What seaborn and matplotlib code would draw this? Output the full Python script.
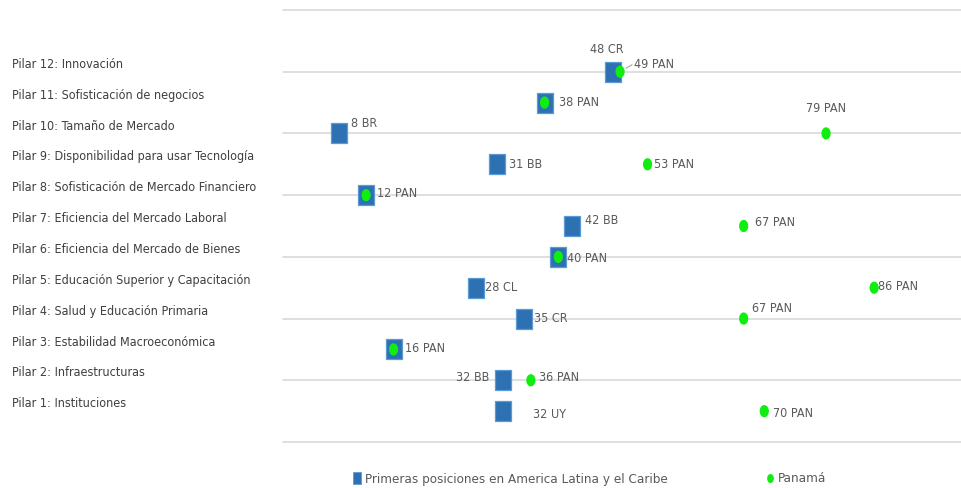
import numpy as np
import pandas as pd
import matplotlib
matplotlib.use("Agg")
import matplotlib.pyplot as plt
import matplotlib.transforms as mtransforms
from matplotlib.lines import Line2D
import seaborn as sns

# ---- data -------------------------------------------------------------
pilares = [
    "Pilar 1: Instituciones",
    "Pilar 2: Infraestructuras",
    "Pilar 3: Estabilidad Macroeconómica",
    "Pilar 4: Salud y Educación Primaria",
    "Pilar 5: Educación Superior y Capacitación",
    "Pilar 6: Eficiencia del Mercado de Bienes",
    "Pilar 7: Eficiencia del Mercado Laboral",
    "Pilar 8: Sofisticación de Mercado Financiero",
    "Pilar 9: Disponibilidad para usar Tecnología",
    "Pilar 10: Tamaño de Mercado",
    "Pilar 11: Sofisticación de negocios",
    "Pilar 12: Innovación",
]
pilar_num = [1, 2, 3, 4, 5, 6, 7, 8, 9, 10, 11, 12]
lider_rank = [32, 32, 16, 35, 28, 40, 42, 12, 31, 8, 38, 48]
lider_pais = ["UY", "BB", "PAN", "CR", "CL", "PAN", "BB", "PAN", "BB", "BR", "PAN", "CR"]
panama_rank = [70, 36, 16, 67, 86, 40, 67, 12, 53, 79, 38, 49]

serie_lider = "Primeras posiciones en America Latina y el Caribe"
serie_pan = "Panamá"

# ---- label placement (pixel offsets from the marker: dx, dy, ha) -------
lider_off = [(30, -3, "left"), (-14, 3, "right"), (11, 1, "left"), (10, 0, "left"),
             (9, 0, "left"), (9, -2, "left"), (13, 5, "left"), (11, 2, "left"),
             (12, 0, "left"), (12, 10, "left"), (14, 0, "left"), (-6, 22, "center")]
pan_off = [(9, -2, "left"), (8, 3, "left"), None, (8, 10, "left"),
           (4, 1, "left"), None, (11, 3, "left"), None,
           (6, 0, "left"), (0, 25, "center"), None, (14, 7, "left")]

# ---- style ----------------------------------------------------------------
sns.set_theme(style="white")
plt.rcParams["font.family"] = ["DejaVu Sans"]
plt.rcParams["font.stretch"] = "condensed"

BLUE = "#2E71B3"
BLUE_EDGE = "#5B9BD5"
GREEN = "#10EE10"
GRID = "#D9D9D9"
LABEL = "#595959"
PX = 0.72  # points per pixel at 100 dpi

# tall rectangle and tall ellipse markers
rect = [(-0.75, -1), (0.75, -1), (0.75, 1), (-0.75, 1), (-0.75, -1)]
t = np.linspace(0, 2 * np.pi, 41)
ellipse = list(zip(0.75 * np.cos(t), np.sin(t)))

W, H = 962, 488
fig = plt.figure(figsize=(W / 100, H / 100), dpi=100)
ax = fig.add_axes([283 / W, 46 / H, (W - 283) / W, 432 / H])

df_l = pd.DataFrame({"rank": lider_rank, "pilar": pilar_num, "serie": serie_lider})
df_p = pd.DataFrame({"rank": panama_rank, "pilar": pilar_num, "serie": serie_pan})

sns.scatterplot(data=df_l, x="rank", y="pilar", ax=ax, marker=rect, s=228,
                color=BLUE, edgecolor=BLUE_EDGE, linewidth=0.9, zorder=3,
                legend=False)
sns.scatterplot(data=df_p, x="rank", y="pilar", ax=ax, marker=ellipse, s=78,
                color=GREEN, edgecolor="none", linewidth=0, zorder=4,
                legend=False)

ax.set_xlim(-0.1, 98.8)
ax.set_ylim(0, 14)
ax.set_yticks(np.arange(0, 15, 2))
ax.set_xticks([])
ax.set_yticklabels([])
ax.tick_params(left=False, bottom=False)
ax.grid(axis="y", color=GRID, linewidth=1.2)
ax.grid(axis="x", visible=False)
for gl in ax.get_ygridlines():
    gl.set_clip_on(False)
for s in ax.spines.values():
    s.set_visible(False)
ax.set_xlabel("")
ax.set_ylabel("")

# data labels
def put_label(x, y, text, off):
    dx, dy, ha = off
    ax.annotate(text, xy=(x, y), xytext=(dx * PX, dy * PX), textcoords="offset points",
                ha=ha, va="center", fontsize=9, color=LABEL, zorder=5)

for i in range(len(pilar_num)):
    put_label(lider_rank[i], pilar_num[i], f"{lider_rank[i]} {lider_pais[i]}", lider_off[i])
    if pan_off[i] is not None:
        put_label(panama_rank[i], pilar_num[i], f"{panama_rank[i]} PAN", pan_off[i])

# leader line for the Pilar 12 Panamá label
ax.annotate("", xy=(panama_rank[11], pilar_num[11]), xytext=(12 * PX, 7 * PX),
            textcoords="offset points",
            arrowprops=dict(arrowstyle="-", color="#A6A6A6", lw=0.8,
                            shrinkA=0, shrinkB=5))

# pillar names on the left
tr = mtransforms.blended_transform_factory(fig.transFigure, ax.transData)
for name, yv in zip(pilares, pilar_num):
    ax.annotate(name, xy=(12 / W, yv), xycoords=tr, xytext=(0, 7.3 * PX),
                textcoords="offset points", ha="left", va="center",
                fontsize=9, color="#3F3F3F", annotation_clip=False)

# legend below the plot
handles = [
    Line2D([], [], linestyle="none", marker=rect, markersize=8.5,
           markerfacecolor=BLUE, markeredgecolor=BLUE_EDGE, markeredgewidth=0.6),
    Line2D([], [], linestyle="none", marker=ellipse, markersize=6.5,
           markerfacecolor=GREEN, markeredgecolor="none"),
]
ax.legend(handles, [serie_lider, serie_pan], loc="center left",
          bbox_to_anchor=(350 / W, 9 / H), bbox_transform=fig.transFigure,
          ncol=2, frameon=False, fontsize=9.6, labelcolor=LABEL,
          handletextpad=0.1, handlelength=1.0, columnspacing=7.2,
          borderaxespad=0, borderpad=0)

fig.savefig("out.png", dpi=100)
